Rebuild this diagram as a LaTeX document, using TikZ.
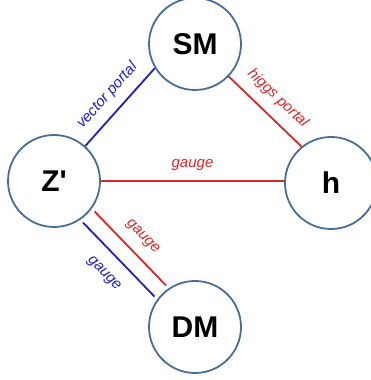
\documentclass[tikz,border=0pt]{standalone}
\usepackage{fontspec}
\setmainfont{Liberation Sans}
\usetikzlibrary{calc}
\definecolor{ringblue}{RGB}{70,110,150}
\definecolor{portalblue}{RGB}{30,30,200}
\definecolor{portalred}{RGB}{215,40,40}

\begin{document}
\begin{tikzpicture}[x=1pt,y=1pt,
    particle/.style={circle,draw=ringblue,line width=1.8pt,minimum size=92pt,inner sep=0pt,
      font=\fontsize{30}{36}\selectfont\bfseries},
    bluelink/.style={portalblue,line width=1.8pt},
    redlink/.style={portalred,line width=1.8pt},
    lbl/.style={font=\fontsize{15}{18}\selectfont\itshape,sloped,midway}]
        \useasboundingbox (0,0) rectangle (371,380);

        \node[particle] (SM) at (195,336) {SM};
        \node[particle] (Z) at (54,199) {Z\textquotesingle};
        \node[particle] (h) at (331,197) {h};
        \node[particle] (DM) at (195,53) {DM};

        \draw[bluelink] (Z) -- node[lbl,above=6pt] {vector portal} (SM.211);
        \draw[redlink] (SM) -- node[lbl,above=7pt] {higgs portal} (h.129);
        \draw[redlink] (Z) -- node[lbl,above=6pt] {gauge} (Z -| h.west);

        % two parallel links between Z' and DM
        \draw[redlink,shorten <=50pt,shorten >=50pt]
          ($(Z.center)!8pt!90:(DM.center)$) -- node[lbl,above=7pt] {gauge}
          ($(DM.center)!8pt!-90:(Z.center)$);
        \draw[bluelink,shorten <=50pt,shorten >=50pt]
          ($(Z.center)!8pt!-90:(DM.center)$) -- node[lbl,below=11pt] {gauge}
          ($(DM.center)!8pt!90:(Z.center)$);
      \end{tikzpicture}
\end{document}
